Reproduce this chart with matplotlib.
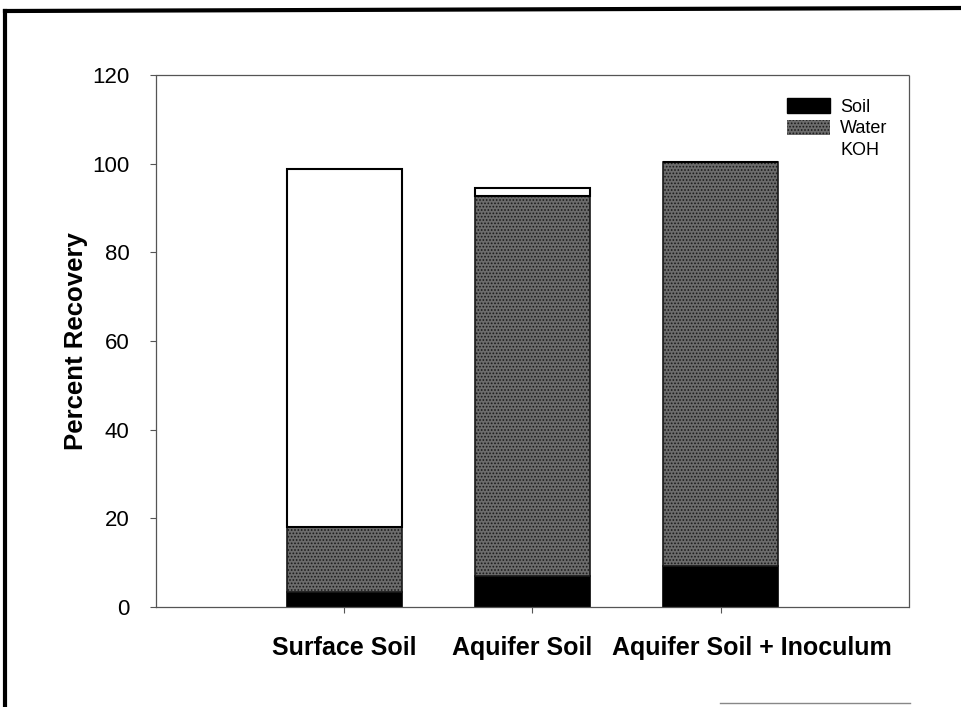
import numpy as np
import matplotlib
matplotlib.use('Agg')
import matplotlib.pyplot as plt
from matplotlib.patches import Patch
from matplotlib.lines import Line2D
from matplotlib.transforms import ScaledTranslation

plt.rcParams['font.family'] = ['Liberation Sans', 'DejaVu Sans']
plt.rcParams['hatch.linewidth'] = 0.8

# data
categories = ['Surface Soil', 'Aquifer Soil', 'Aquifer Soil + Inoculum']
soil = [3.5, 7.0, 9.3]
water = [14.5, 85.8, 91.1]
koh = [80.8, 1.7, 0.0]

x = np.arange(1, len(categories) + 1)
bar_w = 0.61
water_col = '#6c6c6c'

fig = plt.figure(figsize=(9.61, 7.07), dpi=100)
ax = fig.add_axes([0.1623, 0.1414, 0.7836, 0.7525])

bottom = np.zeros(len(categories))
ax.bar(x, soil, bar_w, bottom=bottom, color='black', edgecolor='black', linewidth=1.2)
bottom += soil
ax.bar(x, water, bar_w, bottom=bottom, color=water_col, edgecolor='#1a1a1a',
       hatch='.....', linewidth=1.2)
bottom += water
ax.bar(x, koh, bar_w, bottom=bottom, color='white', edgecolor='black', linewidth=1.5)

ax.set_xlim(0, 4)
ax.set_ylim(0, 120)
ax.set_yticks(np.arange(0, 121, 20))
ax.set_xticks(x)
ax.set_xticklabels(categories, fontsize=18, fontweight='bold')
ax.tick_params(axis='y', labelsize=16, length=4, width=0.8, color='#555555', pad=15)
ax.tick_params(axis='x', length=4, width=0.8, color='#555555', pad=17)
ax.set_ylabel('Percent Recovery', fontsize=18.5, fontweight='bold', labelpad=3)

# the scanned labels sit a little off their ticks
label_shift = [0, -10, 31]
for lab, dx in zip(ax.get_xticklabels(), label_shift):
    lab.set_transform(lab.get_transform() + ScaledTranslation(dx / 100, 0, fig.dpi_scale_trans))

for s in ax.spines.values():
    s.set_color('#555555')
    s.set_linewidth(0.9)
    s.set_linestyle((0, (2, 1)))

handles = [Patch(facecolor='black', edgecolor='black'),
           Patch(facecolor=water_col, edgecolor='#1a1a1a', hatch='.....', linewidth=0),
           Patch(facecolor='white', edgecolor='white')]
fig.legend(handles, ['Soil', 'Water', 'KOH'], loc='upper left',
           bbox_to_anchor=(787 / 961, 1 - 98 / 707), frameon=False, fontsize=13,
           handlelength=2.4, handleheight=0.9, labelspacing=0.22,
           handletextpad=0.55, borderpad=0, borderaxespad=0)

# outer frame of the scanned page
fig.add_artist(Line2D([5 / 961, 5 / 961], [0, 1 - 11 / 707], color='black', linewidth=3))
fig.add_artist(Line2D([5 / 961, 1], [1 - 11 / 707, 1 - 8 / 707], color='black', linewidth=3))
fig.add_artist(Line2D([720 / 961, 910 / 961], [4 / 707, 4 / 707], color='#888888', linewidth=1))

fig.savefig('out.png', dpi=100)
